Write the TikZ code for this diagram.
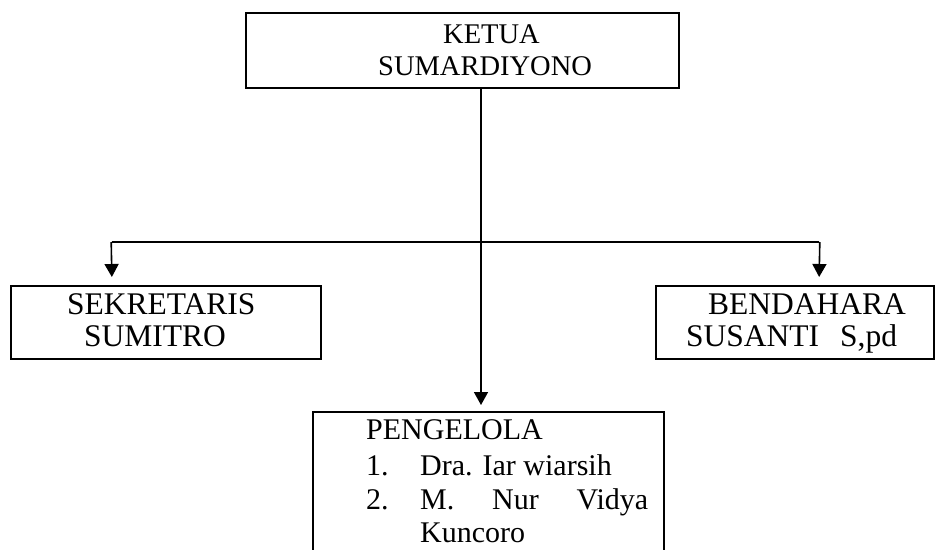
\documentclass[tikz,border=0pt]{standalone}
\usepackage{fontspec}
\setmainfont{Liberation Serif}
\usetikzlibrary{arrows.meta}
\begin{document}
\begin{tikzpicture}[x=1pt,y=-1pt,
  box/.style={draw,line width=2.2pt,inner sep=0pt,anchor=north west},
  txt/.style={inner sep=0pt,anchor=base west,font=\fontsize{30}{34}\selectfont},
  sidetxt/.style={txt,font=\fontsize{31.5}{34}\selectfont},
  toptxt/.style={txt,font=\fontsize{28.5}{32}\selectfont},
  conn/.style={line width=1.6pt},
  arr/.style={conn,-{Triangle[width=14pt,length=13pt]}}]
\useasboundingbox (0,0) rectangle (936,549);
\clip (0,0) rectangle (936,549);
% boxes
\node[box,minimum width=433pt,minimum height=75pt] (ketua) at (245,12) {};
\node[box,minimum width=310pt,minimum height=73pt] (sek) at (10,285) {};
\node[box,minimum width=278pt,minimum height=73pt] (bend) at (655,285) {};
\node[box,minimum width=351pt,minimum height=160pt] (peng) at (312,411) {};
% texts
\node[toptxt] (t1) at (443,43) {KETUA};
\node[toptxt] (t2) at (378,75) {SUMARDIYONO};
\node[sidetxt] (t3) at (67,314) {SEKRETARIS};
\node[sidetxt] (t4) at (84,346) {SUMITRO};
\node[sidetxt] (t5) at (708,314) {BENDAHARA};
\node[sidetxt] (t6) at (686,346) {SUSANTI};
\node[sidetxt] (t6b) at (840,346) {S,pd};
\node[txt] (t7) at (366,439) {PENGELOLA};
\node[txt] (n1) at (366,475) {1.};
\node[txt] (t8) at (420,475) {Dra. Iar wiarsih};
\node[txt] (n2) at (366,509) {2.};
\node[txt] (t9) at (420,509) {\makebox[228pt][s]{M.\hfill Nur\hfill Vidya}};
\node[txt] (t10) at (420,542) {Kuncoro};
% connectors
\coordinate (j) at (481,242);
\coordinate (hl) at (112,242);
\coordinate (hr) at (819,242);
\draw[arr,shorten >=6pt] ([yshift=1pt]ketua.south -| j) -- (j |- peng.north);
\draw[conn] (hl) -- (hr);
\draw[arr,shorten >=8pt] ([xshift=-0.8pt]hl) -- (hl |- sek.north);
\draw[arr,shorten >=8pt] ([xshift=0.8pt]hr) -- (hr |- bend.north);
\end{tikzpicture}
\end{document}
